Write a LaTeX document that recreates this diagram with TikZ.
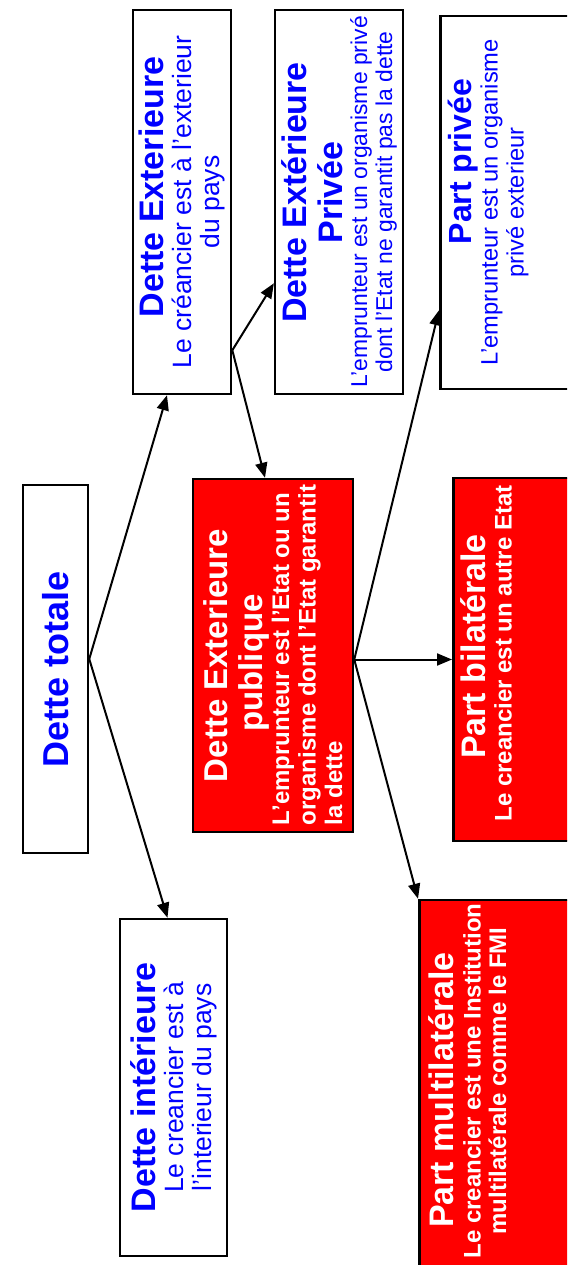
\documentclass[tikz,border=0pt]{standalone}
\usepackage{fontspec}
\setmainfont{Liberation Sans}
\usetikzlibrary{arrows.meta}
\newcommand{\fixspace}{\spaceskip=\fontdimen2\font\relax}
\newcommand{\headfont}{\fontsize{34}{36}\selectfont\bfseries\fixspace}
\newcommand{\bodyfont}{\fontsize{26.5}{28}\selectfont\fixspace}
\newcommand{\smallbody}{\fontsize{22.9}{25}\selectfont\fixspace}
\newcommand{\redbody}{\fontsize{24}{26.5}\selectfont\bfseries\fixspace}
\newcommand{\padline}[1]{\par\rule{0pt}{#1}}
\tikzset{
  arrow/.style={-{Triangle[length=15pt,width=12pt]}, line width=2pt, draw=black},
  whitebox/.style={
    draw=black,
    fill=white,
    line width=2.5pt,
    rotate=90,
    text=blue,
    align=center,
    inner xsep=3pt,
    inner ysep=6pt
  },
  redbox/.style={
    draw=black,
    fill=red,
    line width=2.5pt,
    rotate=90,
    text=white,
    align=center,
    inner xsep=3pt,
    inner ysep=7pt
  }
}
\begin{document}
\begin{tikzpicture}[x=1pt, y=-1pt]

\useasboundingbox (0,0) rectangle (567,1265);
\clip (0,0) rectangle (567,1265);

% Total
\node[whitebox, minimum width=368pt, minimum height=65pt,
  font=\fontsize{36}{38}\selectfont\bfseries] (total) at (55.5,669) {Dette totale};

% Exterieure / interieure
\node[whitebox, minimum width=384pt, minimum height=90pt, text width=378pt] (ext) at (182,202)
  {{\headfont\hspace*{30pt}Dette Exterieure\par}%
   {\bodyfont Le créancier est à l'exterieur\\du pays\par}};
\node[whitebox, minimum width=337pt, minimum height=107pt, text width=331pt] (inter) at (173.5,1087.5)
  {{\headfont Dette intérieure\par}%
   {\bodyfont Le creancier est à\\l'interieur du pays\par}};

% Privee / publique
\node[whitebox, minimum width=384pt, minimum height=122pt, text width=378pt] (extpriv) at (339,202)
  {{\headfont\hspace*{19pt}Dette Extérieure\\\hspace*{19pt}Privée\par}%
   {\smallbody L'emprunteur est un organisme privé\\dont l'Etat ne garantit pas la dette\par}};
\node[redbox, minimum width=353pt, minimum height=160pt, text width=347pt] (pub) at (273,655.5)
  {{\fontsize{33}{35}\selectfont\bfseries\fixspace Dette Exterieure\hspace*{15pt}\\publique\hspace*{15pt}\par}%
   {\redbody\raggedright\hspace*{4pt}L'emprunteur est l'Etat ou un\\\hspace*{4pt}organisme dont l'Etat garantit\\\hspace*{4pt}la dette\par}};

% Parts
\node[whitebox, anchor=north, minimum width=373pt, text width=367pt, inner ysep=8pt] (partpriv) at (439,202.5)
  {{\fontsize{32}{34}\selectfont\bfseries\fixspace\hspace*{82pt}Part privée\par}%
   {\fontsize{23.7}{26}\selectfont\fixspace L'emprunteur est un organisme\\privé exterieur\padline{60pt}}};
\node[redbox, anchor=north, minimum width=363pt, text width=357pt] (bilat) at (452,659.5)
  {{\headfont\hspace*{26pt}Part bilatérale\par}%
   {\redbody\hspace*{12pt}Le creancier est un autre Etat\padline{60pt}}};
\node[redbox, anchor=north, minimum width=380pt, text width=374pt, inner ysep=9pt] (multi) at (418,1090)
  {{\headfont Part multilatérale\par}%
   {\fontsize{24}{25.5}\selectfont\bfseries\fixspace
    \rule{0pt}{26pt}\hspace*{18pt}Le creancier est une Institution\\\hspace*{18pt}multilatérale comme le FMI\padline{60pt}}};

% Branch points
\coordinate (totout) at ([yshift=10pt]total.south);
\coordinate (extout) at ([yshift=45pt]ext.south west);
\coordinate (pubout) at ([yshift=-4pt]pub.south);

% Connections
\draw[arrow] (totout) -- ([xshift=-15pt]ext.west);
\draw[arrow] (totout) -- ([xshift=-6pt]inter.east);

\draw[arrow] (extout) -- ([yshift=112pt]extpriv.north west);
\draw[arrow] (extout) -- ([xshift=-8pt]pub.east);

\draw[arrow] (pubout) -- ([yshift=80pt]partpriv.north west);
\draw[arrow] (pubout) -- (bilat.north);
\draw[arrow] (pubout) -- (multi.north east);

\end{tikzpicture}
\end{document}
